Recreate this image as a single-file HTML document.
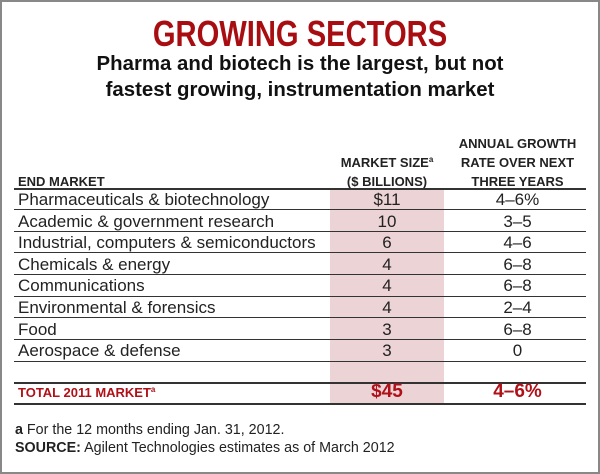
<!DOCTYPE html>
<html><head><meta charset="utf-8"><style>
body{margin:0;width:600px;height:474px;overflow:hidden;background:#fff;font-family:"Liberation Sans",sans-serif;}
#f{position:absolute;left:0;top:0;width:596px;height:470px;border:2px solid #888;background:#fff;}
.a{position:absolute;white-space:nowrap;}
.t{left:0;width:600px;text-align:center;}
.r{font-size:17px;color:#222;}
.l{position:absolute;left:14px;width:572px;height:2px;background:#333;}
.h{font-size:13px;font-weight:bold;color:#222;line-height:19px;}
.c1{left:330px;width:114px;text-align:center;}
.c2{left:455px;width:125px;text-align:center;}
sup{font-size:8px;line-height:0;vertical-align:0;position:relative;top:-5px;}
</style></head><body>
<div id="f"></div>
<div class="a" style="left:330px;top:188px;width:114px;height:215px;background:#ecd3d6;"></div>
<div class="a t" style="top:13px;font-weight:bold;font-size:36px;color:#a80d12;transform:scaleX(0.81);">GROWING SECTORS</div>
<div class="a t" style="top:51px;font-size:20px;font-weight:bold;color:#111;line-height:26px;transform:scaleX(1.02);">Pharma and biotech is the largest, but not<br>fastest growing, instrumentation market</div>
<div class="a h" style="left:18px;top:172px;">END MARKET</div>
<div class="a h c1" style="top:153px;">MARKET SIZE<sup>a</sup><br>($ BILLIONS)</div>
<div class="a h c2" style="top:134px;">ANNUAL GROWTH<br>RATE OVER NEXT<br>THREE YEARS</div>
<div class="l" style="top:188px"></div>
<div class="a r" style="left:18px;top:189px;line-height:21.6px;">Pharmaceuticals &amp; biotechnology<br>Academic &amp; government research<br>Industrial, computers &amp; semiconductors<br>Chemicals &amp; energy<br>Communications<br>Environmental &amp; forensics<br>Food<br>Aerospace &amp; defense</div>
<div class="a r c1" style="top:189px;line-height:21.6px;">$11<br>10<br>6<br>4<br>4<br>4<br>3<br>3</div>
<div class="a r c2" style="top:189px;line-height:21.6px;">4–6%<br>3–5<br>4–6<br>6–8<br>6–8<br>2–4<br>6–8<br>0</div>
<div class="l" style="top:209px;height:1px"></div>
<div class="l" style="top:231px;height:1px"></div>
<div class="l" style="top:252px;height:1px"></div>
<div class="l" style="top:274px;height:1px"></div>
<div class="l" style="top:296px;height:1px"></div>
<div class="l" style="top:317px;height:1px"></div>
<div class="l" style="top:339px;height:1px"></div>
<div class="l" style="top:361px;height:1px"></div>
<div class="l" style="top:382px"></div>
<div class="a" style="left:18px;top:384px;font-size:13px;font-weight:bold;color:#b01018;line-height:18px;">TOTAL 2011 MARKET<sup>a</sup></div>
<div class="a c1" style="top:381px;font-size:19px;font-weight:bold;color:#b01018;">$45</div>
<div class="a c2" style="top:381px;font-size:19px;font-weight:bold;color:#b01018;">4–6%</div>
<div class="l" style="top:403px"></div>
<div class="a" style="left:15px;top:421px;font-size:14.3px;color:#222;line-height:18px;"><b>a</b> For the 12 months ending Jan. 31, 2012.<br><b>SOURCE:</b> Agilent Technologies estimates as of March 2012</div>
</body></html>
